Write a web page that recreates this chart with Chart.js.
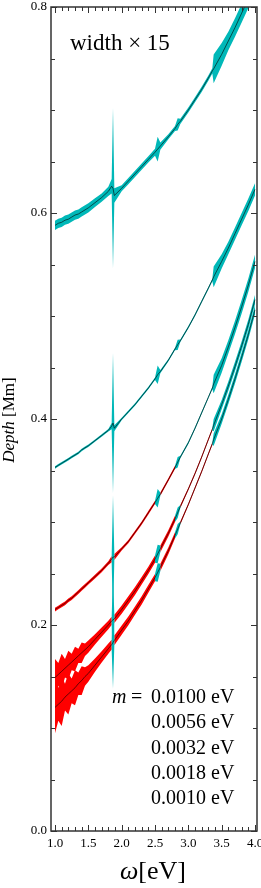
<!DOCTYPE html>
<html>
<head>
<meta charset="utf-8">
<script src="https://cdn.jsdelivr.net/npm/chart.js@4"></script>
<style>
  html, body { margin: 0; padding: 0; background: #fff; }
</style>
</head>
<body>
<canvas id="depthChart" width="261" height="888"></canvas>
<script>
// photon energy grid [eV] (denser around the resonances)
const omega = [1.00, 1.05, 1.10, 1.15, 1.20, 1.25, 1.30, 1.35, 1.40, 1.45, 1.50, 1.60, 1.70, 1.80, 1.85, 1.87, 1.89,
  2.00, 2.10, 2.20, 2.30, 2.40, 2.50, 2.54, 2.58, 2.70, 2.80, 2.84, 2.88, 3.00, 3.10, 3.20, 3.30, 3.36, 3.38,
  3.50, 3.60, 3.70, 3.80, 3.90, 4.00];

const xTicks = [1.0, 1.5, 2.0, 2.5, 3.0, 3.5, 4.0];
const yTicks = [0.0, 0.2, 0.4, 0.6, 0.8];
const masses = ['0.0100', '0.0056', '0.0032', '0.0018', '0.0010'];

// depth [Mm] for each mass
const depthA = [0.588, 0.590, 0.591, 0.593, 0.594, 0.596, 0.598, 0.599, 0.601, 0.603, 0.605, 0.610, 0.615, 0.621, 0.626, 0.624, 0.617,
  0.624, 0.631, 0.638, 0.645, 0.652, 0.659, 0.662, 0.665, 0.674, 0.682, 0.686, 0.689, 0.700, 0.710, 0.720, 0.731, 0.738, 0.740,
  0.754, 0.767, 0.780, 0.794, 0.808, 0.822];
const depthB = [0.353, 0.355, 0.357, 0.359, 0.361, 0.363, 0.365, 0.367, 0.370, 0.372, 0.374, 0.379, 0.384, 0.389, 0.393, 0.396, 0.391,
  0.400, 0.407, 0.414, 0.422, 0.430, 0.439, 0.443, 0.446, 0.457, 0.468, 0.472, 0.476, 0.489, 0.501, 0.514, 0.527, 0.535, 0.538,
  0.553, 0.566, 0.580, 0.594, 0.608, 0.623];
const depthC = [0.215, 0.217, 0.219, 0.221, 0.224, 0.226, 0.229, 0.232, 0.235, 0.238, 0.241, 0.247, 0.253, 0.260, 0.264, 0.266, 0.266,
  0.274, 0.281, 0.290, 0.299, 0.309, 0.319, 0.323, 0.327, 0.341, 0.353, 0.358, 0.363, 0.377, 0.391, 0.406, 0.421, 0.430, 0.434,
  0.452, 0.470, 0.489, 0.509, 0.530, 0.553];
const depthD = [0.149, 0.152, 0.155, 0.158, 0.161, 0.164, 0.167, 0.170, 0.173, 0.176, 0.179, 0.186, 0.193, 0.200, 0.204, 0.205, 0.206,
  0.215, 0.224, 0.233, 0.243, 0.253, 0.264, 0.269, 0.274, 0.289, 0.303, 0.309, 0.315, 0.332, 0.347, 0.363, 0.380, 0.390, 0.394,
  0.414, 0.432, 0.451, 0.471, 0.492, 0.516];
const depthE = [0.120, 0.123, 0.126, 0.130, 0.133, 0.136, 0.139, 0.143, 0.146, 0.150, 0.153, 0.161, 0.169, 0.177, 0.181, 0.183, 0.185,
  0.195, 0.204, 0.214, 0.224, 0.235, 0.246, 0.251, 0.256, 0.272, 0.287, 0.293, 0.299, 0.317, 0.333, 0.349, 0.366, 0.376, 0.380,
  0.400, 0.419, 0.439, 0.460, 0.482, 0.506];

// half width of the band [Mm], already multiplied by 15
const widthA = [0.0045, 0.0045, 0.0045, 0.0045, 0.0045, 0.0045, 0.0045, 0.0045, 0.0045, 0.0045, 0.0045, 0.0042, 0.004, 0.0045, 0.007, 0.078, 0.007,
  0.003, 0.003, 0.003, 0.003, 0.003, 0.0035, 0.012, 0.0035, 0.0025, 0.0025, 0.006, 0.0025, 0.0025, 0.0025, 0.0025, 0.0025, 0.0025, 0.014,
  0.011, 0.009, 0.009, 0.009, 0.009, 0.009];
const widthB = [0.0012, 0.0012, 0.0012, 0.0012, 0.0012, 0.0012, 0.0012, 0.0012, 0.0012, 0.0012, 0.0012, 0.0012, 0.0012, 0.0012, 0.003, 0.068, 0.003,
  0.0012, 0.0012, 0.0012, 0.0012, 0.0012, 0.0012, 0.009, 0.0015, 0.0012, 0.0012, 0.005, 0.0012, 0.0012, 0.0012, 0.0012, 0.0012, 0.0012, 0.010,
  0.007, 0.006, 0.006, 0.006, 0.006, 0.006];
const widthC = [0.0018, 0.0018, 0.0018, 0.0018, 0.0018, 0.0018, 0.0018, 0.0018, 0.0018, 0.0018, 0.0018, 0.0018, 0.0018, 0.0018, 0.003, 0.060, 0.003,
  0.0016, 0.0016, 0.0016, 0.0016, 0.0016, 0.0016, 0.009, 0.0016, 0.0015, 0.0015, 0.005, 0.0012, 0.0012, 0.0012, 0.0012, 0.0012, 0.0012, 0.009,
  0.007, 0.0065, 0.0065, 0.0065, 0.0065, 0.0065];
const widthD = [0.018, 0.011, 0.017, 0.009, 0.014, 0.008, 0.012, 0.007, 0.010, 0.006, 0.006, 0.005, 0.0045, 0.0042, 0.004, 0.045, 0.004,
  0.004, 0.004, 0.0038, 0.0036, 0.0035, 0.0035, 0.009, 0.0033, 0.003, 0.003, 0.005, 0.0015, 0.0012, 0.0012, 0.0012, 0.0012, 0.0012, 0.006,
  0.0045, 0.0045, 0.0045, 0.0045, 0.0045, 0.0045];
const widthE = [0.025, 0.016, 0.024, 0.013, 0.020, 0.012, 0.017, 0.011, 0.014, 0.009, 0.008, 0.0065, 0.0055, 0.005, 0.0048, 0.045, 0.0047,
  0.0045, 0.0043, 0.004, 0.004, 0.0038, 0.0036, 0.009, 0.0035, 0.0033, 0.003, 0.005, 0.0015, 0.0012, 0.0012, 0.0012, 0.0012, 0.0012, 0.006,
  0.0045, 0.0045, 0.0045, 0.0045, 0.0045, 0.0045];

// sign of the width: +1 cyan, -1 red
const signA = [1, 1, 1, 1, 1, 1, 1, 1, 1, 1, 1, 1, 1, 1, 1, 1, 1, 1, 1, 1, 1, 1, 1, 1, 1, 1, 1, 1, 1, 1, 1, 1, 1, 1, 1, 1, 1, 1, 1, 1, 1];
const signB = [1, 1, 1, 1, 1, 1, 1, 1, 1, 1, 1, 1, 1, 1, 1, 1, 1, 1, 1, 1, 1, 1, 1, 1, 1, 1, 1, 1, 1, 1, 1, 1, 1, 1, 1, 1, 1, 1, 1, 1, 1];
const signC = [-1, -1, -1, -1, -1, -1, -1, -1, -1, -1, -1, -1, -1, -1, -1, 1, -1,
  -1, -1, -1, -1, -1, -1, 1, -1, -1, -1, 1, 1, 1, 1, 1, 1, 1, 1, 1, 1, 1, 1, 1, 1];
const signD = [-1, -1, -1, -1, -1, -1, -1, -1, -1, -1, -1, -1, -1, -1, -1, 1, -1,
  -1, -1, -1, -1, -1, -1, 1, -1, -1, -1, 1, -1, -1, -1, -1, -1, -1, 1, 1, 1, 1, 1, 1, 1];
const signE = [-1, -1, -1, -1, -1, -1, -1, -1, -1, -1, -1, -1, -1, -1, -1, 1, -1,
  -1, -1, -1, -1, -1, -1, 1, -1, -1, -1, 1, -1, -1, -1, -1, -1, -1, 1, 1, 1, 1, 1, 1, 1];

const CYAN = 'rgb(0,184,184)';
const RED = 'rgb(255,0,0)';
const SERIF = '"Liberation Serif", "DejaVu Serif", serif';

const curves = [
  { depth: depthA, width: widthA, sign: signA },
  { depth: depthB, width: widthB, sign: signB },
  { depth: depthC, width: widthC, sign: signC },
  { depth: depthD, width: widthD, sign: signD },
  { depth: depthE, width: widthE, sign: signE }
];

// split a curve into runs of segments with the same colour
function runs(sign) {
  const out = [];
  const n = omega.length;
  const pos = i => sign[i] > 0 || sign[i + 1] > 0;
  let s = 0;
  for (let i = 1; i <= n - 1; i++) {
    if (i === n - 1 || pos(i) !== pos(s)) {
      out.push({ from: s, to: i, pos: pos(s) });
      s = i;
    }
  }
  return out;
}

const datasets = [];
curves.forEach(c => {
  runs(c.sign).forEach(r => {
    const pts = [];
    for (let k = r.from; k <= r.to; k++) pts.push({ x: omega[k], y: c.depth[k] + c.width[k] });
    for (let k = r.to; k >= r.from; k--) pts.push({ x: omega[k], y: c.depth[k] - c.width[k] });
    datasets.push({
      data: pts,
      fill: 'shape',
      backgroundColor: r.pos ? CYAN : RED,
      borderColor: 'rgba(0,0,0,0)',
      borderWidth: 0,
      pointRadius: 0,
      tension: 0,
      order: r.pos ? 2 : 3
    });
  });
  datasets.push({
    data: omega.map((x, i) => ({ x: x, y: c.depth[i] })),
    fill: false,
    borderColor: '#000',
    borderWidth: 0.6,
    pointRadius: 0,
    tension: 0,
    order: 1
  });
});

// frame, inside ticks and the annotations
const framePlugin = {
  id: 'framePlugin',
  afterDraw(chart) {
    const { ctx, chartArea: a, scales: { x, y } } = chart;
    ctx.save();
    ctx.strokeStyle = '#333';
    ctx.lineWidth = 1;
    ctx.beginPath();
    for (let v = 10; v <= 40; v++) {
      const px = Math.round(x.getPixelForValue(v / 10)) + 0.5;
      const len = v % 5 === 0 ? 6 : 4;
      ctx.moveTo(px, a.bottom); ctx.lineTo(px, a.bottom - len);
      ctx.moveTo(px, a.top); ctx.lineTo(px, a.top + len);
    }
    for (let v = 0; v <= 16; v++) {
      const py = Math.round(y.getPixelForValue(v * 0.05)) + 0.5;
      const len = v % 4 === 0 ? 6 : 4;
      ctx.moveTo(a.left, py); ctx.lineTo(a.left + len, py);
      ctx.moveTo(a.right, py); ctx.lineTo(a.right - len, py);
    }
    ctx.stroke();
    ctx.lineWidth = 1.5;
    ctx.strokeRect(a.left, a.top, a.right - a.left, a.bottom - a.top);

    ctx.fillStyle = '#000';
    ctx.textBaseline = 'alphabetic';
    ctx.textAlign = 'left';
    ctx.font = '23px ' + SERIF;
    ctx.fillText('width \u00d7 15', 70, 50);

    // mass list
    ctx.font = 'italic 20px ' + SERIF;
    ctx.fillText('m', 112, 703);
    ctx.font = '20px ' + SERIF;
    ctx.fillText('=', 131, 703);
    masses.forEach((m, i) => ctx.fillText(m + ' eV', 151, 703 + i * 25.3));

    // x title
    ctx.font = 'italic 26px ' + SERIF;
    ctx.fillText('\u03c9', 120, 879);
    const wx = 120 + ctx.measureText('\u03c9').width;
    ctx.font = '26px ' + SERIF;
    ctx.fillText('[eV]', wx, 879);

    // y title
    ctx.translate(14, 420);
    ctx.rotate(-Math.PI / 2);
    ctx.font = 'italic 17px ' + SERIF;
    const w1 = ctx.measureText('Depth').width;
    ctx.font = '17px ' + SERIF;
    const w2 = ctx.measureText(' [Mm]').width;
    const tx = -(w1 + w2) / 2;
    ctx.font = 'italic 17px ' + SERIF;
    ctx.fillText('Depth', tx, 0);
    ctx.font = '17px ' + SERIF;
    ctx.fillText(' [Mm]', tx + w1, 0);
    ctx.restore();
  }
};

function noPad(s) {
  s.paddingLeft = 0; s.paddingRight = 0; s.paddingTop = 0; s.paddingBottom = 0;
}

new Chart(document.getElementById('depthChart').getContext('2d'), {
  type: 'line',
  data: { datasets: datasets },
  options: {
    responsive: false,
    animation: false,
    layout: { padding: { top: 7, right: 4, left: 0, bottom: 0 } },
    plugins: { legend: { display: false }, tooltip: { enabled: false } },
    scales: {
      x: {
        type: 'linear', min: 0.94, max: 4.03,
        grid: { display: false, drawTicks: false },
        border: { display: false },
        afterBuildTicks: s => { s.ticks = xTicks.map(v => ({ value: v })); },
        afterFit: s => { s.height = 57; noPad(s); },
        ticks: { padding: 5, maxRotation: 0, color: '#000', font: { family: SERIF, size: 13 }, callback: v => v.toFixed(1) }
      },
      y: {
        type: 'linear', min: 0, max: 0.8,
        grid: { display: false, drawTicks: false },
        border: { display: false },
        afterBuildTicks: s => { s.ticks = yTicks.map(v => ({ value: v })); },
        afterFit: s => { s.width = 51; noPad(s); },
        ticks: { padding: 4, color: '#000', font: { family: SERIF, size: 13 }, callback: v => v.toFixed(1) }
      }
    }
  },
  plugins: [framePlugin]
});
</script>
</body>
</html>
